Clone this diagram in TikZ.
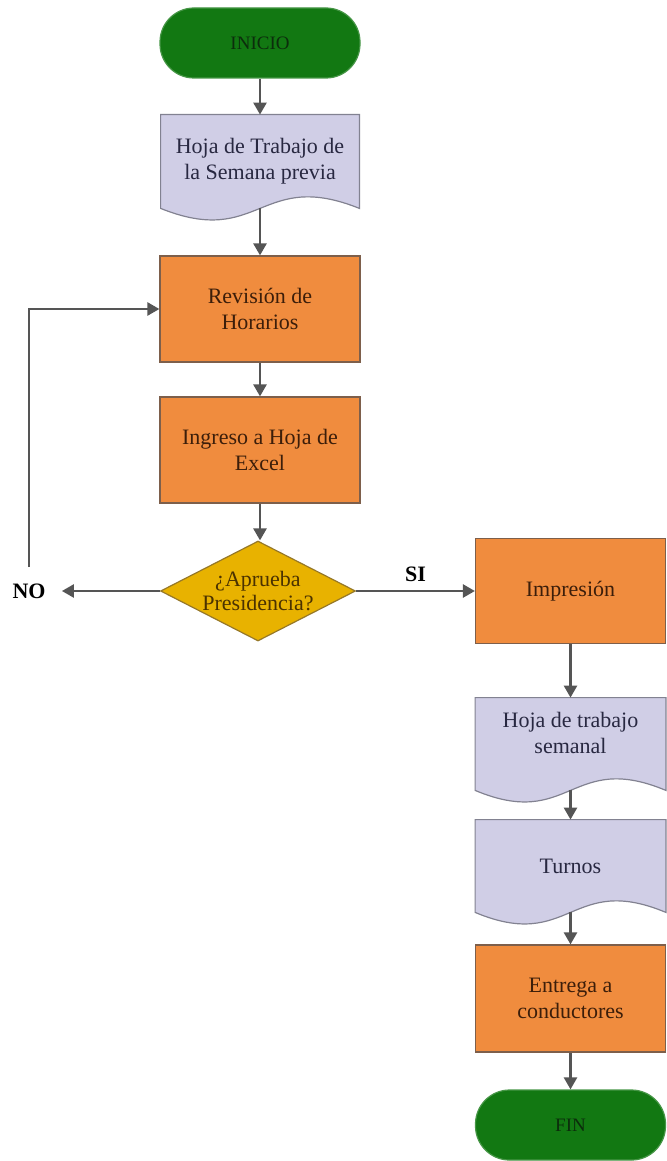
\documentclass[tikz,border=0pt]{standalone}
\usepackage{fontspec}
\setmainfont{Liberation Serif}
\usetikzlibrary{shapes.geometric,arrows.meta,calc,backgrounds}

\definecolor{termgreen}{RGB}{18,120,18}
\definecolor{termedge}{RGB}{70,150,70}
\definecolor{termtext}{RGB}{12,45,12}
\definecolor{procorange}{RGB}{240,140,62}
\definecolor{procedge}{RGB}{125,95,75}
\definecolor{proctext}{RGB}{60,30,10}
\definecolor{doclilac}{RGB}{208,206,230}
\definecolor{docedge}{RGB}{130,130,145}
\definecolor{doctext}{RGB}{40,40,65}
\definecolor{decgold}{RGB}{232,178,0}
\definecolor{decedge}{RGB}{150,120,40}
\definecolor{dectext}{RGB}{75,50,0}
\definecolor{flowgray}{RGB}{85,85,85}

\tikzset{
  terminal/.style={rectangle, rounded corners=17pt, fill=termgreen, draw=termedge, line width=0.6pt,
    minimum height=35pt, font=\fontsize{9.5}{11}\selectfont, text=termtext},
  process/.style={rectangle, fill=procorange, draw=procedge, line width=0.6pt, align=center,
    font=\fontsize{11}{13}\selectfont, text=proctext},
  document/.style={rectangle, inner sep=0pt, align=center, font=\fontsize{11}{13}\selectfont, text=doctext},
  docfill/.style={fill=doclilac, draw=docedge, line width=0.6pt},
  decision/.style={diamond, fill=decgold, draw=decedge, line width=0.6pt, inner sep=0pt,
    minimum width=97.5pt, minimum height=50pt},
  flow/.style={draw=flowgray, line width=1.25pt, -{Triangle[length=6pt,width=6.5pt]}},
  answer/.style={font=\bfseries\fontsize{11}{13}\selectfont, text=black}
}

% wavy bottom of a document box
\newcommand{\docwave}[1]{\draw[docfill] (#1.north west) -- (#1.north east) -- (#1.south east)
  .. controls ($(#1.south)+(0,-40)$) and ($(#1.south)+(0,40)$) .. (#1.south west) -- cycle;}

\begin{document}
\begin{tikzpicture}[x=0.5pt,y=0.5pt,yscale=-1,xscale=1]
\useasboundingbox (0,0) rectangle (667,1161);

%Flowchart: Terminator
\node (inicio) [terminal, minimum width=100pt] at (260,43) {INICIO};
%Flowchart: Document
\node (prev) [document, minimum width=99pt, minimum height=46.5pt] at (260,161.5) {Hoja de Trabajo de\\la Semana previa};
%Flowchart: Process
\node (rev) [process, minimum width=100pt, minimum height=53pt] at (260,309) {Revisión de\\Horarios};
%Flowchart: Process
\node (excel) [process, minimum width=100pt, minimum height=53pt] at (260,450) {Ingreso a Hoja de\\Excel};
%Flowchart: Decision
\node (dec) [decision, label={[align=center, font=\fontsize{11}{12}\selectfont, text=dectext]center:¿Aprueba\\Presidencia?}] at (258,591) {};
% Text Node
\node (no) [answer, inner sep=8pt] at (29,591) {NO};

%Flowchart: Process
\node (imp) [process, minimum width=95pt, minimum height=52.5pt] at (570.5,591) {Impresión};
%Flowchart: Document
\node (sem) [document, minimum width=95pt, minimum height=46pt] at (570.5,744) {Hoja de trabajo\\semanal\\[-2pt]};
%Flowchart: Document
\node (turnos) [document, minimum width=95pt, minimum height=46pt] at (570.5,866) {Turnos};
%Flowchart: Process
\node (ent) [process, minimum width=95pt, minimum height=53.5pt] at (570.5,998.5) {Entrega a\\conductores};
%Flowchart: Terminator
\node (fin) [terminal, minimum width=95pt] at (570.5,1125) {FIN};

\begin{scope}[on background layer]
\docwave{prev}
\docwave{sem}
\docwave{turnos}
\end{scope}

%Straight Lines
\draw[flow] (inicio) -- (prev);
\draw[flow] (prev.south) -- (rev);
\draw[flow] (rev) -- (excel);
\draw[flow] (excel.south) -- (excel.south |- dec.north);
\draw[flow] (dec.west) -- (no.east);
\draw[flow] (no.north) |- (rev.west);
\draw[flow] (dec.east) -- node[answer, above, inner sep=4pt] {SI} (imp.west);
\draw[flow] (imp) -- (sem);
\draw[flow] (sem.south) -- (turnos);
\draw[flow] (turnos.south) -- (ent);
\draw[flow] (ent) -- (fin);
\end{tikzpicture}
\end{document}
